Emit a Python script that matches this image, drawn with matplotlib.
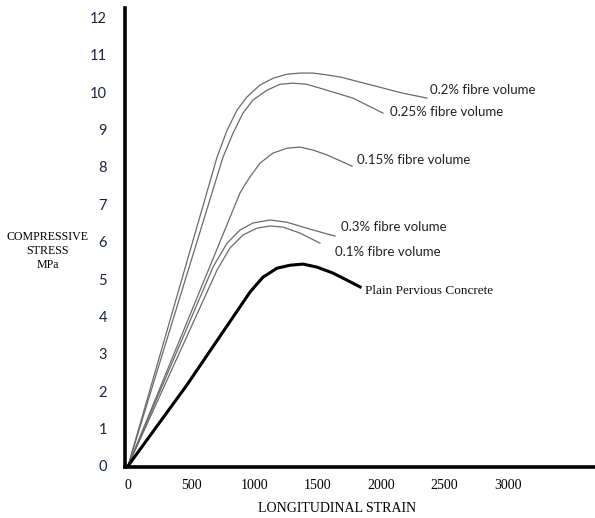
import matplotlib
matplotlib.use('Agg')
import matplotlib.pyplot as plt

# strain / stress points
s02 = [0, 703, 782, 861, 939, 1042, 1145, 1255, 1358, 1461, 1571, 1682, 1990, 2147, 2360]
f02 = [0, 8.26, 8.98, 9.52, 9.87, 10.19, 10.37, 10.48, 10.51, 10.51, 10.46, 10.40, 10.13, 9.99, 9.84]

s025 = [0, 750, 829, 908, 987, 1097, 1200, 1303, 1413, 1571, 1776, 2013]
f025 = [0, 8.26, 8.90, 9.44, 9.79, 10.05, 10.21, 10.24, 10.21, 10.05, 9.84, 9.44]

s015 = [0, 884, 924, 963, 1042, 1145, 1255, 1358, 1461, 1571, 1769]
f015 = [0, 7.30, 7.53, 7.73, 8.10, 8.37, 8.50, 8.53, 8.45, 8.32, 8.02]

s03 = [0, 671, 782, 884, 987, 1121, 1255, 1382, 1516, 1634]
f03 = [0, 5.32, 5.96, 6.31, 6.50, 6.58, 6.52, 6.39, 6.26, 6.15]

s01 = [0, 703, 805, 908, 1018, 1121, 1224, 1358, 1516]
f01 = [0, 5.24, 5.83, 6.18, 6.36, 6.42, 6.39, 6.23, 5.96]

s_plain = [0, 466, 963, 1011, 1066, 1176, 1279, 1382, 1492, 1618, 1729, 1832]
f_plain = [0, 2.17, 4.65, 4.84, 5.05, 5.29, 5.37, 5.40, 5.32, 5.16, 4.97, 4.79]

x_ticks = [0, 500, 1000, 1500, 2000, 2500, 3000]
y_ticks = list(range(0, 13))

fig = plt.figure(figsize=(5.95, 5.18), dpi=100)
ax = fig.add_axes([0.210, 0.0985, 0.790, 0.886])

grey = '#6a6a6a'
for s, f in [(s02, f02), (s025, f025), (s015, f015), (s03, f03), (s01, f01)]:
    ax.plot(s, f, color=grey, linewidth=0.9, solid_joinstyle='round')
ax.plot(s_plain, f_plain, color='black', linewidth=2.2, solid_joinstyle='round')

lab_font = dict(family='Lato', fontsize=9.5, color='#222222', va='center', ha='left')
ax.text(2384, 10.05, '0.2% fibre volume', **lab_font)
ax.text(2068, 9.47, '0.25% fibre volume', **lab_font)
ax.text(1808, 8.18, '0.15% fibre volume', **lab_font)
ax.text(1682, 6.39, '0.3% fibre volume', **lab_font)
ax.text(1634, 5.72, '0.1% fibre volume', **lab_font)
ax.text(1871, 4.68, 'Plain Pervious Concrete', family='Liberation Serif',
        fontsize=9.5, color='#111111', va='center', ha='left')

ax.set_xlim(-24, 3687)
ax.set_ylim(-0.027, 12.25)

for sp in ['top', 'right']:
    ax.spines[sp].set_visible(False)
ax.spines['left'].set_linewidth(2.6)
ax.spines['bottom'].set_linewidth(2.6)

ax.set_xticks(x_ticks)
ax.set_xticklabels([str(v) for v in x_ticks], family='Liberation Serif', fontsize=10)
ax.set_yticks(y_ticks)
ax.set_yticklabels([str(v) for v in y_ticks], family='Lato', fontsize=10.5, color='#1c2340')
ax.tick_params(axis='both', length=0)
ax.tick_params(axis='y', pad=13)
ax.tick_params(axis='x', pad=9)

ax.set_xlabel('LONGITUDINAL STRAIN', family='Liberation Serif', fontsize=10)
ax.xaxis.set_label_coords(0.451, -0.0915)
ax.xaxis.label.set_va('center')
ax.set_ylabel('COMPRESSIVE\nSTRESS\nMPa', family='Liberation Serif', fontsize=8.6,
              rotation=0, ha='center', va='center', linespacing=1.2)
ax.yaxis.set_label_coords(-0.164, 0.4706)

plt.savefig('out.png', dpi=100)
